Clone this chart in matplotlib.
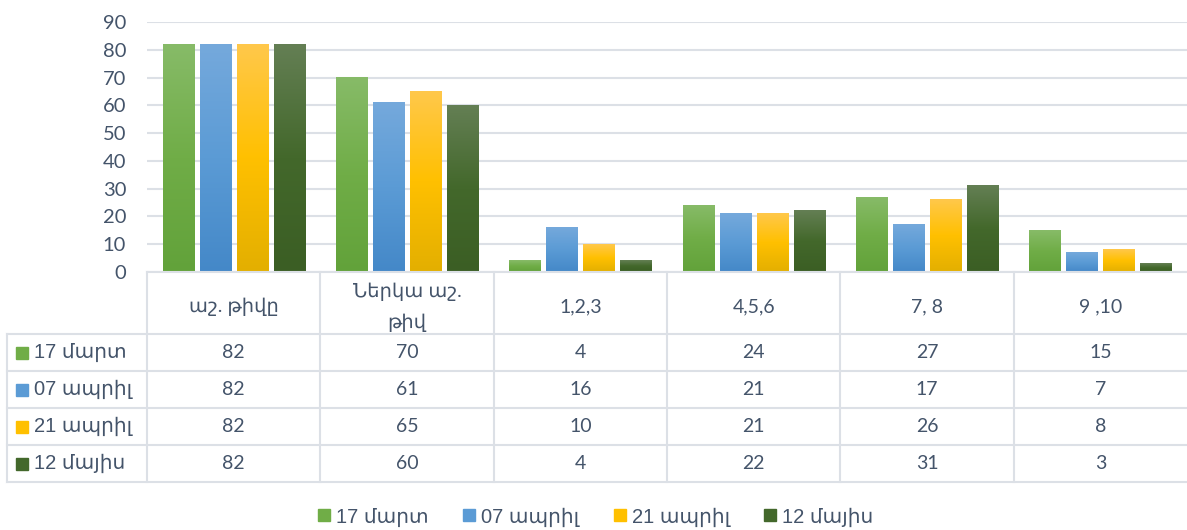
import numpy as np
import matplotlib.pyplot as plt
from matplotlib.colors import LinearSegmentedColormap
from matplotlib.lines import Line2D

categories = ['աշ. թիվը', 'Ներկա աշ.\nթիվ', '1,2,3', '4,5,6', '7, 8', '9 ,10']
series_names = ['17 մարտ', '07 ապրիլ', '21 ապրիլ', '12 մայիս']
mar17 = [82, 70, 4, 24, 27, 15]
apr07 = [82, 61, 16, 21, 17, 7]
apr21 = [82, 65, 10, 21, 26, 8]
may12 = [82, 60, 4, 22, 31, 3]
y_ticks = list(range(0, 100, 10))

# (top, middle, bottom) colours of the gradient fill, one per series
gradients = [
    ('#87BB68', '#70AD47', '#62A23A'),
    ('#75A9DC', '#5B9BD5', '#4488C8'),
    ('#FFC84B', '#FFC000', '#E3AF00'),
    ('#647F54', '#43682B', '#3B5E24'),
]
solid = [g[1] for g in gradients]

TXT = '#44546A'
GRID = '#DCE0E6'
W, H = 1187, 530

plt.rcParams['font.family'] = ['Lato', 'DejaVu Sans']


def fy(ypx):
    return 1 - ypx / H


fig = plt.figure(figsize=(W / 100, H / 100), dpi=100)
ax = fig.add_axes([147 / W, fy(272), 1040 / W, (272 - 22) / H])

values = [mar17, apr07, apr21, may12]
x = np.arange(len(categories))
bw, step = 0.179, 0.213
grad = np.linspace(0, 1, 256).reshape(-1, 1)
for i, (vals, g) in enumerate(zip(values, gradients)):
    bars = ax.bar(x + (i - 1.5) * step, vals, bw, color='none', zorder=3)
    cmap = LinearSegmentedColormap.from_list('g%d' % i, [(0, g[2]), (0.5, g[1]), (1, g[0])])
    for b in bars:
        ax.imshow(grad, cmap=cmap, origin='lower', aspect='auto', zorder=3,
                  extent=[b.get_x(), b.get_x() + b.get_width(), 0, b.get_height()])

ax.set_xlim(-0.5, len(categories) - 0.5)
ax.set_ylim(0, 90)
ax.set_yticks(y_ticks)
ax.set_xticks([])
ax.yaxis.grid(True, color=GRID, lw=1.5, zorder=0)
ax.set_axisbelow(True)
for s in ax.spines.values():
    s.set_visible(False)
ax.tick_params(axis='y', length=0, pad=15, labelsize=14.5, labelcolor=TXT)

# data table under the chart, rows laid out in pixel units
tax = fig.add_axes([147 / W, fy(482), 1040 / W, (482 - 272) / H])
tax.set_xlim(-0.5, len(categories) - 0.5)
tax.set_ylim(482, 272)
tax.axis('off')
left = -0.5 - 140 / 173.33
row_edges = [334 + k * 37 for k in range(5)]
lkw = dict(color=GRID, lw=1.5, clip_on=False)
tax.plot([-0.5, 5.5], [272, 272], **lkw)
for ry in row_edges:
    tax.plot([left, 5.5], [ry, ry], **lkw)
tax.plot([left, left], [334, 482], **lkw)
for k in range(len(categories)):
    tax.plot([k - 0.5, k - 0.5], [272, 482], **lkw)

for k, c in enumerate(categories):
    tax.text(k, 307, c, ha='center', va='center', fontsize=14, color=TXT,
             linespacing=1.85)
for r, (name, vals, col) in enumerate(zip(series_names, values, solid)):
    yc = (row_edges[r] + row_edges[r + 1]) / 2
    tax.plot(left + 15 / 173.33, yc, marker='s', ms=9, color=col, clip_on=False)
    tax.text(left + 27 / 173.33, yc, name, ha='left', va='center', fontsize=14.5,
             color=TXT, family=['Liberation Sans', 'DejaVu Sans'])
    for k, v in enumerate(vals):
        tax.text(k, yc, str(v), ha='center', va='center', fontsize=14, color=TXT)

handles = [Line2D([], [], ls='none', marker='s', ms=9, color=c) for c in solid]
fig.legend(handles, series_names, loc='center', bbox_to_anchor=(595 / W, fy(517)),
           ncol=4, frameon=False, handlelength=0.8, handletextpad=0.2,
           columnspacing=1.6, prop={'size': 14.5, 'family': ['Liberation Sans', 'DejaVu Sans']},
           labelcolor=TXT)

fig.savefig('out.png', dpi=100)
